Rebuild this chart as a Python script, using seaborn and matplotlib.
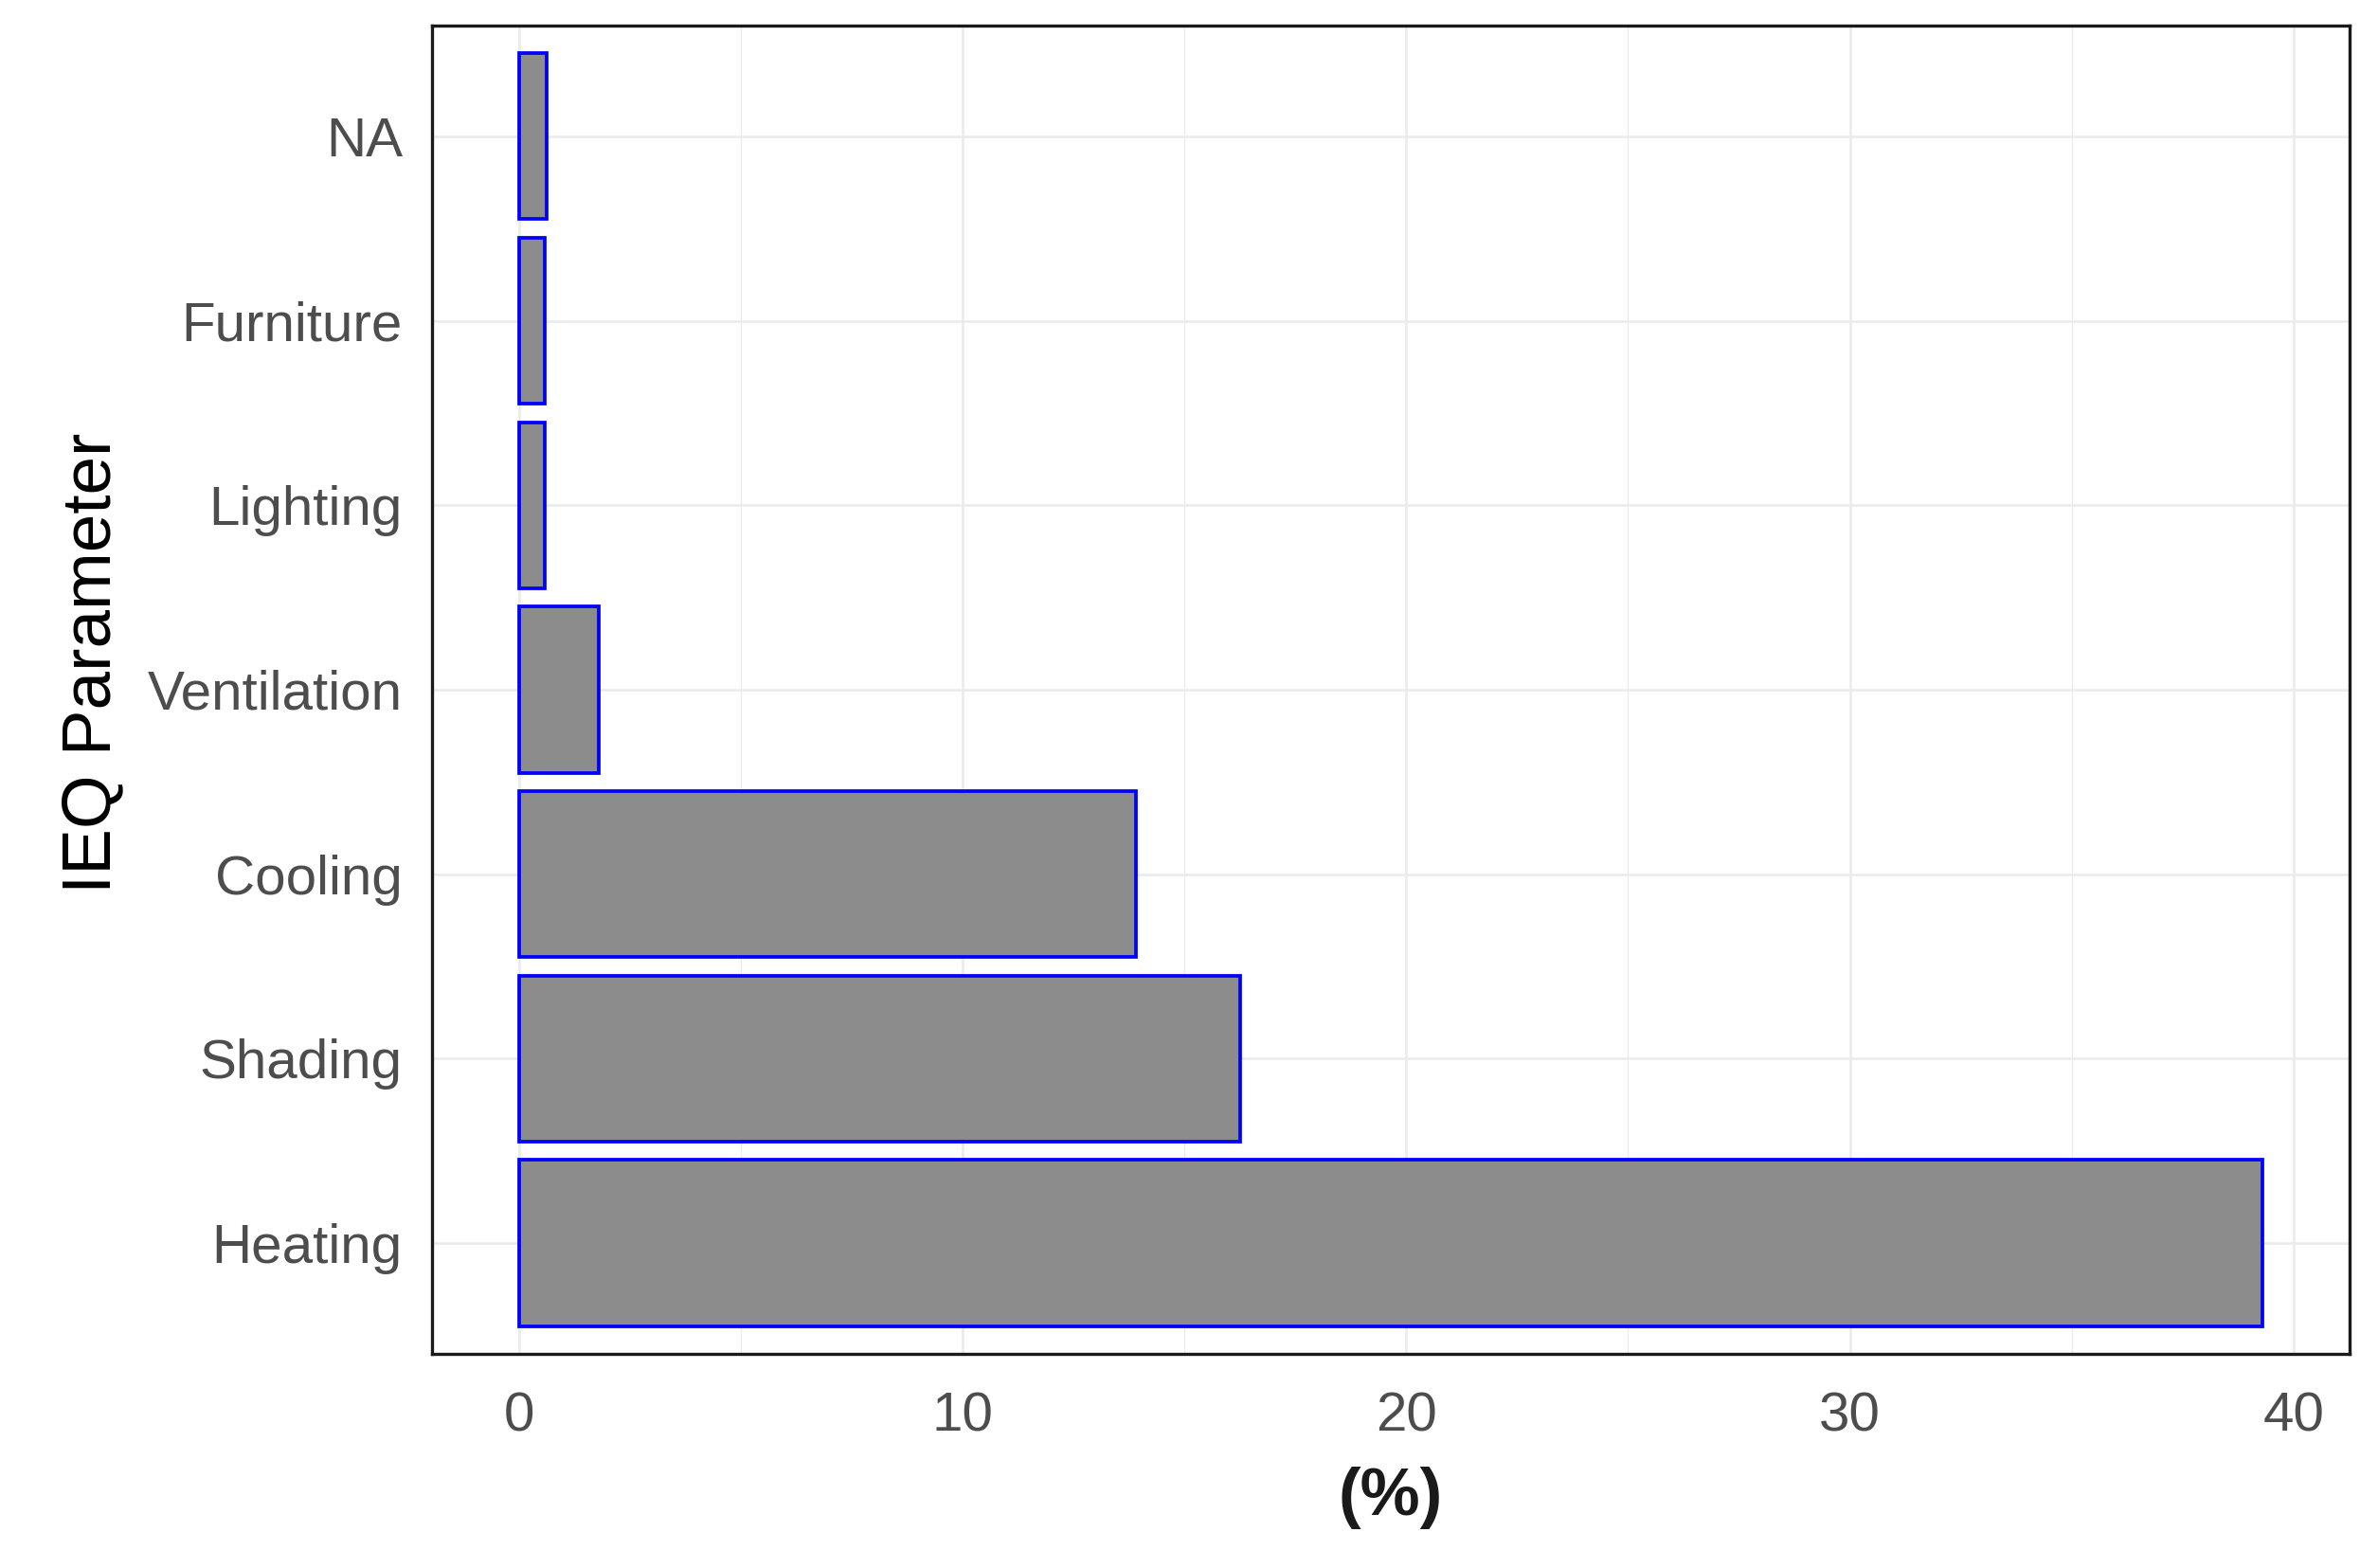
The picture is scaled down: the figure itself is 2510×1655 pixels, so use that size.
import seaborn as sns
import pandas as pd
import matplotlib.pyplot as plt
from matplotlib.ticker import MultipleLocator

# values (% of responses)
params = ['NA', 'Furniture', 'Lighting', 'Ventilation', 'Cooling', 'Shading', 'Heating']
percent = [0.62, 0.57, 0.57, 1.8, 13.9, 16.25, 39.3]
xticks = [0, 10, 20, 30, 40]

df = pd.DataFrame({'param': params, 'pct': percent})

sns.set_style('white')
plt.rcParams['font.family'] = ['Liberation Sans', 'DejaVu Sans']

fig = plt.figure(figsize=(2510 / 300, 1655 / 300), dpi=300)
ax = fig.add_axes([0.1817, 0.1366, 0.988 - 0.1817, 0.9837 - 0.1366])

sns.barplot(data=df, x='pct', y='param', order=params, orient='h',
            color='#8C8C8C', saturation=1, width=0.9,
            edgecolor='blue', linewidth=0.9, ax=ax, zorder=3)

ax.set_xlim(-1.965, 41.265)
ax.set_ylim(6.6, -0.6)
ax.set_xticks(xticks)
ax.xaxis.set_minor_locator(MultipleLocator(5))

ax.grid(True, which='major', color='#EBEBEB', linewidth=0.6, zorder=0)
ax.grid(True, which='minor', axis='x', color='#EBEBEB', linewidth=0.3, zorder=0)
ax.set_axisbelow(True)

for s in ax.spines.values():
    s.set_visible(True)
    s.set_color('#1A1A1A')
    s.set_linewidth(0.8)

ax.tick_params(axis='both', which='major', length=3.5, width=0.6, color='#333333',
               labelsize=14, labelcolor='#4D4D4D', pad=4)
ax.tick_params(axis='x', which='major', pad=6)
ax.tick_params(axis='x', which='minor', length=0)

ax.set_xlabel('(%)', fontsize=17, fontweight='bold', color='#1A1A1A', labelpad=6)
ax.set_ylabel('IEQ Parameter', fontsize=17.5, color='black', labelpad=6)
ax.yaxis.label.set_y(0.52)

fig.savefig('out.png', dpi=300)
